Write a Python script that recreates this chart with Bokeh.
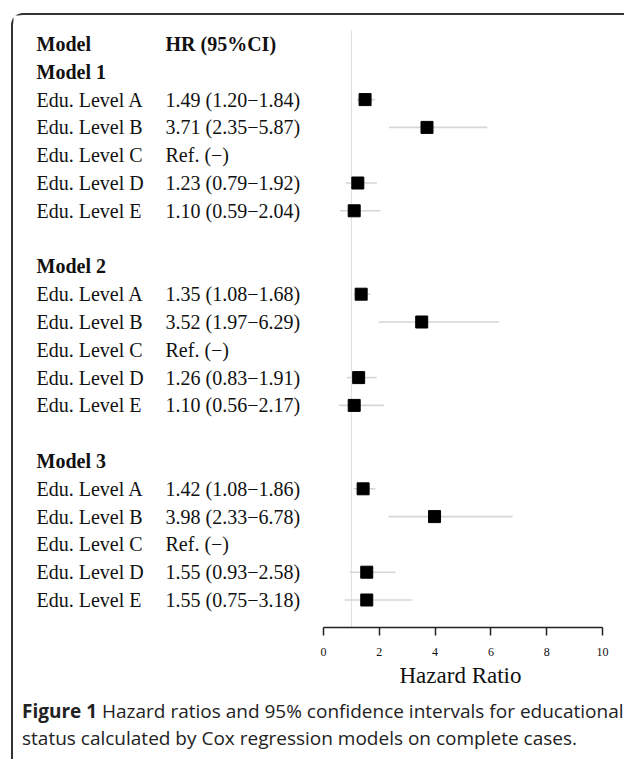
from bokeh.plotting import figure
from bokeh.models import Range1d, FixedTicker, Div, Title
from bokeh.layouts import column
from bokeh.core.properties import value
from bokeh.embed import file_html
from bokeh.resources import INLINE

# ---------------- data ----------------
models = ["Model 1", "Model 2", "Model 3"]
levels = ["Edu. Level A", "Edu. Level B", "Edu. Level C", "Edu. Level D", "Edu. Level E"]
hr_m1 = [1.49, 3.71, None, 1.23, 1.10]
lo_m1 = [1.20, 2.35, None, 0.79, 0.59]
hi_m1 = [1.84, 5.87, None, 1.92, 2.04]
hr_m2 = [1.35, 3.52, None, 1.26, 1.10]
lo_m2 = [1.08, 1.97, None, 0.83, 0.56]
hi_m2 = [1.68, 6.29, None, 1.91, 2.17]
hr_m3 = [1.42, 3.98, None, 1.55, 1.55]
lo_m3 = [1.08, 2.33, None, 0.93, 0.75]
hi_m3 = [1.86, 6.78, None, 2.58, 3.18]
x_ticks = [0, 2, 4, 6, 8, 10]
ref_value = 1

# ---------------- layout constants ----------------
MARGIN_L = 11
MARGIN_T = 13
BORDER = 2
FIG_W = 610
FRAME_LEFT_PAGE = MARGIN_L + BORDER
FRAME_TOP_PAGE = MARGIN_T + BORDER
AXIS_PAGE_Y = 627.0
PX_PER_UNIT = 27.9
ZERO_PAGE_X = 323.0
ROW0_PAGE_Y = 43.5
ROW_STEP = 27.8
FRAME_H = int(AXIS_PAGE_Y - FRAME_TOP_PAGE)
BOTTOM_H = 66
AXIS_TITLE_LEFT_PAGE = 399

x_start = -(ZERO_PAGE_X - FRAME_LEFT_PAGE) / PX_PER_UNIT
x_end = x_start + FIG_W / PX_PER_UNIT
y_top = (FRAME_TOP_PAGE - ROW0_PAGE_Y) / ROW_STEP
y_bot = (FRAME_TOP_PAGE + FRAME_H - ROW0_PAGE_Y) / ROW_STEP

def px_to_x(px):
    return (px - ZERO_PAGE_X) / PX_PER_UNIT

LABEL_X = px_to_x(36)
HR_X = px_to_x(165)

# ---------------- build rows ----------------
hr_all = [hr_m1, hr_m2, hr_m3]
lo_all = [lo_m1, lo_m2, lo_m3]
hi_all = [hi_m1, hi_m2, hi_m3]

bold_x, bold_y, bold_t = [LABEL_X, HR_X], [0, 0], ["Model", "HR (95%CI)"]
norm_x, norm_y, norm_t = [], [], []
pt_x, pt_y, seg_x0, seg_x1, seg_y = [], [], [], [], []
for m, name in enumerate(models):
    start = 1 + 7 * m
    bold_x.append(LABEL_X); bold_y.append(start); bold_t.append(name)
    for i, lev in enumerate(levels):
        r = start + 1 + i
        h, lo, hi = hr_all[m][i], lo_all[m][i], hi_all[m][i]
        norm_x.append(LABEL_X); norm_y.append(r); norm_t.append(lev)
        if h is None:
            s = "Ref. (\u2212)"
        else:
            s = f"{h:.2f} ({lo:.2f}\u2212{hi:.2f})"
            pt_x.append(h); pt_y.append(r)
            seg_x0.append(lo); seg_x1.append(hi); seg_y.append(r)
        norm_x.append(HR_X); norm_y.append(r); norm_t.append(s)

p = figure(width=FIG_W, height=FRAME_H + BOTTOM_H, output_backend="svg", toolbar_location=None,
           x_range=Range1d(x_start, x_end), y_range=Range1d(y_bot, y_top),
           min_border_left=0, min_border_right=0, min_border_top=0, min_border_bottom=BOTTOM_H,
           y_axis_location=None)
p.outline_line_color = None
p.grid.visible = False
p.background_fill_color = "white"
p.border_fill_color = "white"

# reference line
p.segment(x0=[ref_value], x1=[ref_value], y0=[-0.5], y1=[y_bot], line_color="#dedede", line_width=1)

# CI lines and point estimates
p.segment(x0=seg_x0, x1=seg_x1, y0=seg_y, y1=seg_y, line_color="#d6d6d6", line_width=1.6)
p.scatter(pt_x, pt_y, marker="square", size=12, fill_color="black", line_color="black")

p.text(x=bold_x, y=bold_y, text=bold_t, text_font=value("Liberation Serif"), text_font_size="20px",
       text_font_style="bold", text_baseline="middle", text_color="#111111")
p.text(x=norm_x, y=norm_y, text=norm_t, text_font=value("Liberation Serif"), text_font_size="20px",
       text_baseline="middle", text_color="#111111")

ax = p.xaxis[0]
ax.bounds = (x_ticks[0], x_ticks[-1])
ax.ticker = FixedTicker(ticks=x_ticks)
ax.minor_tick_line_color = None
ax.major_tick_in = 0
ax.major_tick_out = 8
ax.axis_line_width = 1.5
ax.axis_line_color = "#222222"
ax.major_tick_line_width = 1.5
ax.major_tick_line_color = "#222222"
ax.major_label_text_font = "Liberation Serif"
ax.major_label_text_font_size = "12px"
ax.major_label_text_color = "#111111"
ax.major_label_standoff = 12

xt = Title(text="Hazard Ratio", align="left", offset=AXIS_TITLE_LEFT_PAGE - FRAME_LEFT_PAGE,
           text_font="Liberation Serif", text_font_size="23px", text_font_style="normal",
           text_color="#111111", standoff=5)
p.add_layout(xt, "below")

cap = Div(text="<b>Figure 1</b> Hazard ratios and 95% confidence intervals for educational<br>"
               "status calculated by Cox regression models on complete cases.",
          width=FIG_W,
          styles={"font-family": "Open Sans", "font-size": "19px", "line-height": "27px",
                  "color": "#222", "padding-left": "4px", "white-space": "nowrap"})

layout = column(p, cap, styles={"border-left": f"{BORDER}px solid #333",
                                "border-top": f"{BORDER}px solid #333",
                                "border-top-left-radius": "12px", "background": "white",
                                "margin-left": f"{MARGIN_L}px", "margin-top": f"{MARGIN_T}px",
                                "padding-bottom": "20px"})

open("out.html", "w").write(file_html(layout, INLINE))
